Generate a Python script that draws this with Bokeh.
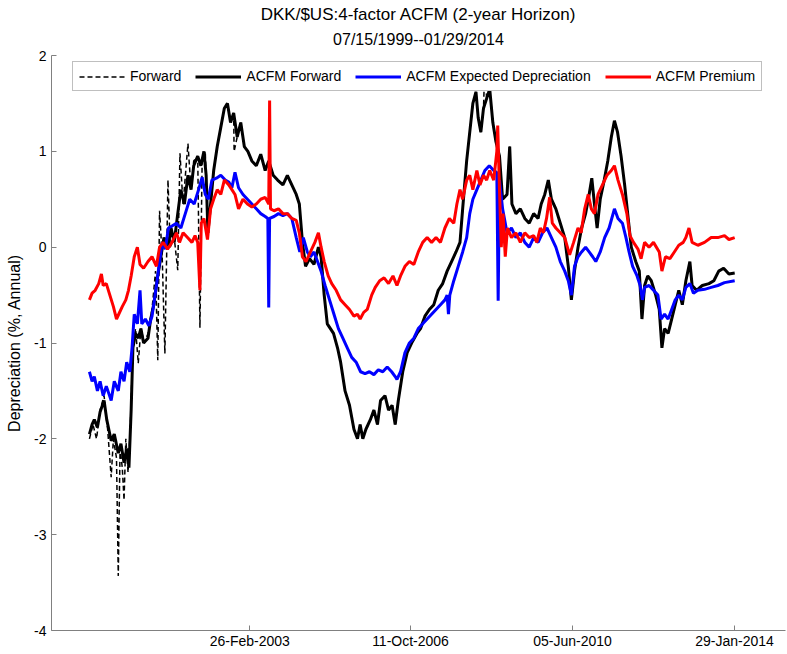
import pandas as pd
from bokeh.plotting import figure
from bokeh.models import Range1d, FixedTicker, Legend, LegendItem, Title
from bokeh.embed import file_html
from bokeh.resources import INLINE

# ---------------- data ----------------
start_date = "1999-07-15"
end_date = "2014-01-29"
tick_dates = ["2003-02-26", "2006-10-11", "2010-06-05", "2014-01-29"]
tick_labels = ["26-Feb-2003", "11-Oct-2006", "05-Jun-2010", "29-Jan-2014"]
y_ticks = [-4, -3, -2, -1, 0, 1, 2]
y_tick_labels = ["-4", "-3", "-2", "-1", "0", "1", "2"]

# time in decimal years
acfm_fwd_t = [1999.54, 1999.60, 1999.65, 1999.72, 1999.78, 1999.87, 1999.93, 2000.03, 2000.10, 2000.19,
              2000.25, 2000.32, 2000.38, 2000.43, 2000.48, 2000.52, 2000.58, 2000.64, 2000.70, 2000.76,
              2000.86, 2000.92, 2000.99, 2001.08, 2001.15, 2001.22, 2001.31, 2001.38, 2001.45, 2001.53,
              2001.60, 2001.68, 2001.76, 2001.83, 2001.89, 2001.98, 2002.05, 2002.12, 2002.17, 2002.21,
              2002.27, 2002.34, 2002.42, 2002.50, 2002.58, 2002.65, 2002.72, 2002.79, 2002.87, 2002.95,
              2003.03, 2003.11, 2003.20, 2003.30, 2003.40, 2003.50, 2003.58, 2003.68, 2003.78, 2003.90,
              2004.00, 2004.10, 2004.20, 2004.27, 2004.34, 2004.41, 2004.50, 2004.60, 2004.70, 2004.76,
              2004.83, 2004.90, 2004.97, 2005.04, 2005.13, 2005.20, 2005.30, 2005.40, 2005.50, 2005.58,
              2005.64, 2005.70, 2005.77, 2005.87, 2005.95, 2006.03, 2006.10, 2006.20, 2006.28, 2006.36,
              2006.43, 2006.50, 2006.60, 2006.70, 2006.80, 2006.92, 2007.00, 2007.10, 2007.20, 2007.30,
              2007.40, 2007.50, 2007.60, 2007.70, 2007.80, 2007.89, 2007.95, 2008.04, 2008.11, 2008.18,
              2008.25, 2008.30, 2008.36, 2008.42, 2008.49, 2008.56, 2008.63, 2008.70, 2008.78, 2008.85,
              2008.95, 2009.01, 2009.06, 2009.15, 2009.25, 2009.35, 2009.45, 2009.55, 2009.65, 2009.72,
              2009.80, 2009.88, 2009.95, 2010.05, 2010.15, 2010.25, 2010.33, 2010.40, 2010.47, 2010.55,
              2010.63, 2010.72, 2010.80, 2010.86, 2010.92, 2010.98, 2011.05, 2011.14, 2011.22, 2011.30,
              2011.37, 2011.44, 2011.52, 2011.60, 2011.68, 2011.75, 2011.85, 2011.93, 2011.99, 2012.05,
              2012.12, 2012.20, 2012.30, 2012.38, 2012.44, 2012.50, 2012.58, 2012.66, 2012.74, 2012.82,
              2012.90, 2012.98, 2013.07, 2013.12, 2013.22, 2013.35, 2013.50, 2013.61, 2013.72, 2013.83,
              2013.95, 2014.08]
acfm_fwd_v = [-1.95, -1.85, -1.80, -1.88, -1.72, -1.60, -1.80, -2.02, -1.95, -2.15,
              -2.05, -2.25, -2.10, -2.30, -1.70, -1.05, -0.90, -0.95, -0.85, -1.00,
              -0.95, -0.75, -0.60, -0.30, -0.10, 0.10, 0.00, 0.20, 0.05, 0.35,
              0.60, 0.45, 0.75, 0.60, 0.85, 0.95, 0.85, 1.00, 0.75, 0.15,
              0.45, 0.80, 1.05, 1.25, 1.45, 1.50, 1.30, 1.40, 1.15, 1.30,
              1.05, 1.00, 0.90, 0.85, 0.97, 0.80, 0.90, 0.75, 0.70, 0.65,
              0.75, 0.65, 0.55, 0.45, 0.05, -0.20, -0.12, -0.18, 0.00, -0.10,
              -0.50, -0.80, -0.85, -0.90, -1.05, -1.20, -1.50, -1.65, -1.90, -2.00,
              -1.85, -2.00, -1.90, -1.80, -1.70, -1.85, -1.60, -1.55, -1.70, -1.65,
              -1.85, -1.60, -1.30, -1.10, -1.00, -0.90, -0.85, -0.72, -0.65, -0.60,
              -0.45, -0.38, -0.25, -0.15, -0.05, 0.05, 0.40, 0.90, 1.20, 1.50,
              1.62, 1.35, 1.20, 1.45, 1.55, 1.65, 1.30, 1.10, 0.95, 0.50,
              0.55, 1.05, 0.45, 0.35, 0.40, 0.30, 0.25, 0.35, 0.30, 0.45,
              0.55, 0.70, 0.50, 0.40, 0.25, 0.10, -0.20, -0.55, -0.25, 0.00,
              0.20, 0.35, 0.55, 0.72, 0.45, 0.20, 0.50, 0.70, 0.90, 1.15,
              1.32, 1.20, 0.95, 0.65, 0.30, 0.00, -0.15, -0.25, -0.75, -0.40,
              -0.30, -0.35, -0.50, -0.65, -1.05, -0.85, -0.90, -0.75, -0.60, -0.45,
              -0.60, -0.35, -0.15, -0.40, -0.45, -0.40, -0.38, -0.35, -0.25, -0.22,
              -0.28, -0.27]

# Forward (dashed): early part differs from ACFM Forward, later identical
fwd_early_t = [1999.54, 1999.62, 1999.70, 1999.78, 1999.87, 1999.95, 2000.03, 2000.08, 2000.15, 2000.19,
               2000.23, 2000.28, 2000.32, 2000.36, 2000.41, 2000.46, 2000.52, 2000.58, 2000.64, 2000.70,
               2000.78, 2000.86, 2000.95, 2001.03, 2001.08, 2001.12, 2001.18, 2001.24, 2001.31, 2001.36,
               2001.45, 2001.53, 2001.58, 2001.65, 2001.76, 2001.83, 2001.89, 2001.98, 2002.03, 2002.08,
               2002.15, 2002.21, 2002.27, 2002.34, 2002.42, 2002.50]
fwd_early_v = [-2.00, -1.85, -2.00, -1.70, -1.55, -1.90, -2.40, -2.00, -2.20, -3.43,
               -2.10, -2.30, -2.64, -2.00, -2.35, -1.90, -1.00, -0.85, -1.21, -0.85,
               -1.00, -0.90, -0.65, -0.25, -1.18, 0.38, -0.10, -1.11, 0.70, 0.00,
               0.10, -0.24, 0.98, 0.45, 1.08, 0.60, 0.90, 0.95, -0.84, 0.90,
               1.00, 0.15, 0.45, 0.80, 1.05, 1.25]
fwd_extra_t = [2002.80, 2008.45]
fwd_extra_v = [1.00, 1.92]

exp_dep_t = [1999.54, 1999.60, 1999.65, 1999.72, 1999.78, 1999.85, 1999.92, 2000.03, 2000.10, 2000.19,
             2000.25, 2000.32, 2000.38, 2000.45, 2000.50, 2000.55, 2000.62, 2000.68, 2000.72, 2000.80,
             2000.88, 2000.95, 2001.05, 2001.12, 2001.18, 2001.25, 2001.32, 2001.40, 2001.50, 2001.60,
             2001.70, 2001.80, 2001.90, 2002.00, 2002.08, 2002.15, 2002.22, 2002.30, 2002.40, 2002.50,
             2002.60, 2002.68, 2002.75, 2002.82, 2002.90, 2003.00, 2003.10, 2003.20, 2003.30, 2003.40,
             2003.50, 2003.56, 2003.58, 2003.60, 2003.70, 2003.80, 2003.90, 2004.00, 2004.10, 2004.20,
             2004.28, 2004.36, 2004.45, 2004.52, 2004.60, 2004.68, 2004.76, 2004.85, 2004.95, 2005.05,
             2005.15, 2005.25, 2005.35, 2005.45, 2005.55, 2005.65, 2005.75, 2005.85, 2005.95, 2006.05,
             2006.15, 2006.25, 2006.35, 2006.43, 2006.47, 2006.55, 2006.65, 2006.75, 2006.85, 2006.95,
             2007.05, 2007.15, 2007.25, 2007.35, 2007.45, 2007.55, 2007.60, 2007.63, 2007.66, 2007.75,
             2007.85, 2007.95, 2008.04, 2008.11, 2008.18, 2008.27, 2008.36, 2008.45, 2008.55, 2008.65,
             2008.72, 2008.75, 2008.78, 2008.85, 2008.95, 2009.05, 2009.15, 2009.25, 2009.35, 2009.45,
             2009.55, 2009.65, 2009.75, 2009.85, 2009.95, 2010.05, 2010.15, 2010.25, 2010.33, 2010.40,
             2010.47, 2010.55, 2010.63, 2010.72, 2010.80, 2010.88, 2010.95, 2011.05, 2011.15, 2011.25,
             2011.37, 2011.45, 2011.55, 2011.63, 2011.70, 2011.78, 2011.88, 2011.95, 2012.00, 2012.05,
             2012.15, 2012.25, 2012.35, 2012.42, 2012.50, 2012.58, 2012.66, 2012.74, 2012.82, 2012.90,
             2012.98, 2013.07, 2013.15, 2013.25, 2013.40, 2013.55, 2013.70, 2013.85, 2014.08]
exp_dep_v = [-1.30, -1.40, -1.35, -1.50, -1.40, -1.55, -1.45, -1.60, -1.40, -1.50,
             -1.30, -1.40, -1.20, -1.30, -1.05, -0.70, -0.80, -0.45, -0.80, -0.75,
             -0.82, -0.72, -0.40, -0.15, 0.05, -0.02, 0.20, 0.22, 0.25, 0.20,
             0.35, 0.50, 0.45, 0.60, 0.73, 0.55, 0.50, 0.70, 0.72, 0.75,
             0.70, 0.68, 0.62, 0.78, 0.62, 0.55, 0.50, 0.45, 0.40, 0.35,
             0.32, 0.30, -0.63, 0.30, 0.32, 0.35, 0.33, 0.35, 0.30, 0.10,
             -0.05, 0.10, -0.05, -0.10, -0.05, -0.15, -0.25, -0.40, -0.55, -0.70,
             -0.85, -0.95, -1.05, -1.15, -1.20, -1.30, -1.32, -1.30, -1.33, -1.28,
             -1.30, -1.25, -1.30, -1.35, -1.38, -1.30, -1.10, -1.00, -0.95, -0.85,
             -0.80, -0.75, -0.70, -0.65, -0.60, -0.55, -0.50, -0.70, -0.50, -0.35,
             -0.20, -0.05, 0.10, 0.35, 0.50, 0.60, 0.70, 0.80, 0.85, 0.80,
             0.78, -0.56, 0.70, 0.40, 0.15, 0.20, 0.10, 0.15, 0.05, 0.00,
             0.10, 0.05, 0.15, 0.20, 0.10, 0.00, -0.15, -0.25, -0.35, -0.50,
             -0.20, -0.10, -0.05, 0.00, -0.05, -0.10, -0.15, -0.05, 0.10, 0.20,
             0.40, 0.30, 0.25, 0.10, -0.05, -0.20, -0.30, -0.40, -0.55, -0.42,
             -0.40, -0.45, -0.50, -0.75, -0.70, -0.75, -0.65, -0.55, -0.50, -0.55,
             -0.42, -0.38, -0.48, -0.45, -0.44, -0.42, -0.40, -0.37, -0.35]

premium_t = [1999.54, 1999.60, 1999.67, 1999.75, 1999.81, 1999.85, 1999.92, 2000.00, 2000.08, 2000.15,
             2000.20, 2000.28, 2000.36, 2000.42, 2000.48, 2000.55, 2000.62, 2000.68, 2000.76, 2000.86,
             2000.95, 2001.05, 2001.12, 2001.20, 2001.30, 2001.40, 2001.50, 2001.57, 2001.65, 2001.75,
             2001.85, 2001.92, 2001.98, 2002.03, 2002.06, 2002.12, 2002.20, 2002.27, 2002.34, 2002.42,
             2002.50, 2002.58, 2002.68, 2002.75, 2002.82, 2002.90, 2003.00, 2003.10, 2003.20, 2003.30,
             2003.40, 2003.50, 2003.58, 2003.60, 2003.62, 2003.70, 2003.80, 2003.90, 2004.00, 2004.10,
             2004.20, 2004.27, 2004.34, 2004.42, 2004.52, 2004.62, 2004.70, 2004.76, 2004.83, 2004.92,
             2005.00, 2005.10, 2005.20, 2005.30, 2005.40, 2005.50, 2005.58, 2005.64, 2005.72, 2005.80,
             2005.90, 2005.98, 2006.08, 2006.18, 2006.28, 2006.38, 2006.47, 2006.55, 2006.65, 2006.75,
             2006.85, 2006.95, 2007.05, 2007.15, 2007.25, 2007.35, 2007.45, 2007.55, 2007.65, 2007.75,
             2007.82, 2007.89, 2007.95, 2008.04, 2008.11, 2008.18, 2008.27, 2008.34, 2008.42, 2008.49,
             2008.56, 2008.65, 2008.72, 2008.74, 2008.78, 2008.82, 2008.86, 2008.91, 2008.96, 2009.05,
             2009.15, 2009.25, 2009.35, 2009.45, 2009.55, 2009.62, 2009.70, 2009.77, 2009.84, 2009.91,
             2009.97, 2010.05, 2010.15, 2010.25, 2010.36, 2010.45, 2010.55, 2010.62, 2010.70, 2010.78,
             2010.85, 2010.92, 2011.00, 2011.10, 2011.20, 2011.30, 2011.37, 2011.45, 2011.55, 2011.65,
             2011.72, 2011.80, 2011.90, 2011.97, 2012.05, 2012.15, 2012.25, 2012.38, 2012.44, 2012.52,
             2012.62, 2012.72, 2012.82, 2012.92, 2012.98, 2013.05, 2013.12, 2013.25, 2013.40, 2013.55,
             2013.70, 2013.85, 2013.95, 2014.08]
premium_v = [-0.55, -0.48, -0.45, -0.38, -0.28, -0.40, -0.38, -0.50, -0.62, -0.75,
             -0.70, -0.62, -0.55, -0.45, -0.30, -0.10, 0.00, -0.18, -0.22, -0.15,
             -0.10, -0.20, 0.00, 0.05, -0.02, 0.05, 0.15, 0.05, 0.15, 0.10,
             0.05, 0.12, 0.05, -0.45, 0.25, 0.30, 0.08, 0.40, 0.50, 0.60,
             0.55, 0.70, 0.65, 0.60, 0.55, 0.40, 0.50, 0.45, 0.42, 0.45,
             0.50, 0.52, 0.45, 1.53, 0.40, 0.38, 0.40, 0.35, 0.35, 0.30,
             0.28, 0.15, -0.10, -0.15, -0.05, 0.05, 0.15, 0.00, -0.15, -0.30,
             -0.38, -0.45, -0.55, -0.60, -0.65, -0.72, -0.70, -0.75, -0.68, -0.65,
             -0.50, -0.42, -0.35, -0.32, -0.38, -0.30, -0.40, -0.30, -0.20, -0.15,
             -0.18, -0.05, 0.05, 0.10, 0.05, 0.10, 0.05, 0.20, 0.30, 0.25,
             0.45, 0.60, 0.50, 0.70, 0.75, 0.60, 0.80, 0.65, 0.75, 0.70,
             0.80, 0.70, 1.00, 1.27, 0.60, 0.00, 0.35, -0.10, 0.20, 0.10,
             0.15, 0.05, 0.15, 0.10, 0.12, 0.05, 0.20, 0.15, 0.30, 0.52,
             0.25, 0.20, 0.15, 0.10, -0.08, 0.05, 0.20, 0.15, 0.40, 0.55,
             0.40, 0.35, 0.55, 0.65, 0.75, 0.80, 0.85, 0.70, 0.55, 0.35,
             0.12, 0.05, -0.02, -0.12, 0.05, 0.00, 0.05, -0.05, -0.25, -0.10,
             -0.12, -0.05, 0.02, 0.05, 0.10, 0.20, 0.05, 0.02, 0.05, 0.10,
             0.10, 0.12, 0.08, 0.10]


def dec_year(s):
    d = pd.Timestamp(s)
    y0 = pd.Timestamp(year=d.year, month=1, day=1)
    y1 = pd.Timestamp(year=d.year + 1, month=1, day=1)
    return d.year + (d - y0) / (y1 - y0)


# assemble the Forward series
pairs = list(zip(fwd_early_t, fwd_early_v))
pairs += [(t, v) for t, v in zip(acfm_fwd_t, acfm_fwd_v) if t > fwd_early_t[-1]]
pairs += list(zip(fwd_extra_t, fwd_extra_v))
pairs.sort()
fwd_t = [p_[0] for p_ in pairs]
fwd_v = [p_[1] for p_ in pairs]

FONT = "Liberation Sans"
AXIS_GRAY = "#808080"

x0 = dec_year(start_date)
x1 = dec_year(end_date)
tick_pos = [dec_year(d) for d in tick_dates]

p = figure(width=787, height=654, output_backend="svg", toolbar_location=None,
           x_range=Range1d(x0 - 0.849, x1 + 1.148), y_range=Range1d(-4, 2),
           title="DKK/$US:4-factor ACFM (2-year Horizon)",
           min_border_left=51, min_border_right=2, min_border_top=55, min_border_bottom=24)
# outer title line
p.title.align = "center"
p.title.text_font = FONT
p.title.text_font_size = "17px"
p.title.text_font_style = "normal"
p.title.text_color = "black"
try:
    p.title.standoff = -5
except Exception:
    p.title.standoff = 0
# inner (second) title line, nearest the plot
p.add_layout(Title(text="07/15/1999--01/29/2014", align="center",
                   text_font=FONT, text_font_size="16px", text_font_style="normal",
                   text_color="black", standoff=15), "above")

p.outline_line_color = None
p.grid.grid_line_color = None
p.background_fill_color = "white"
p.border_fill_color = "white"

for ax in (p.xaxis[0], p.yaxis[0]):
    ax.axis_line_color = AXIS_GRAY
    ax.major_tick_line_color = AXIS_GRAY
    ax.minor_tick_line_color = None
    ax.major_tick_in = 5
    ax.major_tick_out = 0
    ax.major_label_text_font = FONT
    ax.major_label_text_font_size = "14px"
    ax.major_label_text_color = "black"

p.xaxis.ticker = FixedTicker(ticks=tick_pos)
p.xaxis.major_label_overrides = {tp: lab for tp, lab in zip(tick_pos, tick_labels)}
p.xaxis.major_label_standoff = 2

p.yaxis.ticker = FixedTicker(ticks=y_ticks)
p.yaxis.major_label_overrides = {t: lab for t, lab in zip(y_ticks, y_tick_labels)}
p.yaxis.major_label_standoff = 5
p.yaxis.axis_label = "Depreciation (%, Annual)"
p.yaxis.axis_label_text_font = FONT
p.yaxis.axis_label_text_font_size = "16px"
p.yaxis.axis_label_text_font_style = "normal"
p.yaxis.axis_label_text_color = "black"
p.yaxis.axis_label_standoff = 8

r_fwd = p.line(fwd_t, fwd_v, line_color="black", line_width=1.5, line_dash="5 3")
r_acfm = p.line(acfm_fwd_t, acfm_fwd_v, line_color="black", line_width=3)
r_dep = p.line(exp_dep_t, exp_dep_v, line_color="#0000ff", line_width=3)
r_prem = p.line(premium_t, premium_v, line_color="#ff0000", line_width=3)

legend = Legend(items=[LegendItem(label="Forward", renderers=[r_fwd]),
                       LegendItem(label="ACFM Forward", renderers=[r_acfm]),
                       LegendItem(label="ACFM Expected Depreciation", renderers=[r_dep]),
                       LegendItem(label="ACFM Premium", renderers=[r_prem])],
                orientation="horizontal", location=(21, 539),
                label_text_font=FONT, label_text_font_size="14px", label_text_color="black",
                border_line_color=AXIS_GRAY, border_line_width=1,
                background_fill_color="white", background_fill_alpha=1,
                padding=6, spacing=14, margin=0, glyph_width=46, glyph_height=13,
                label_height=13, label_standoff=5)
p.add_layout(legend)

open("out.html", "w").write(file_html(p, INLINE))
